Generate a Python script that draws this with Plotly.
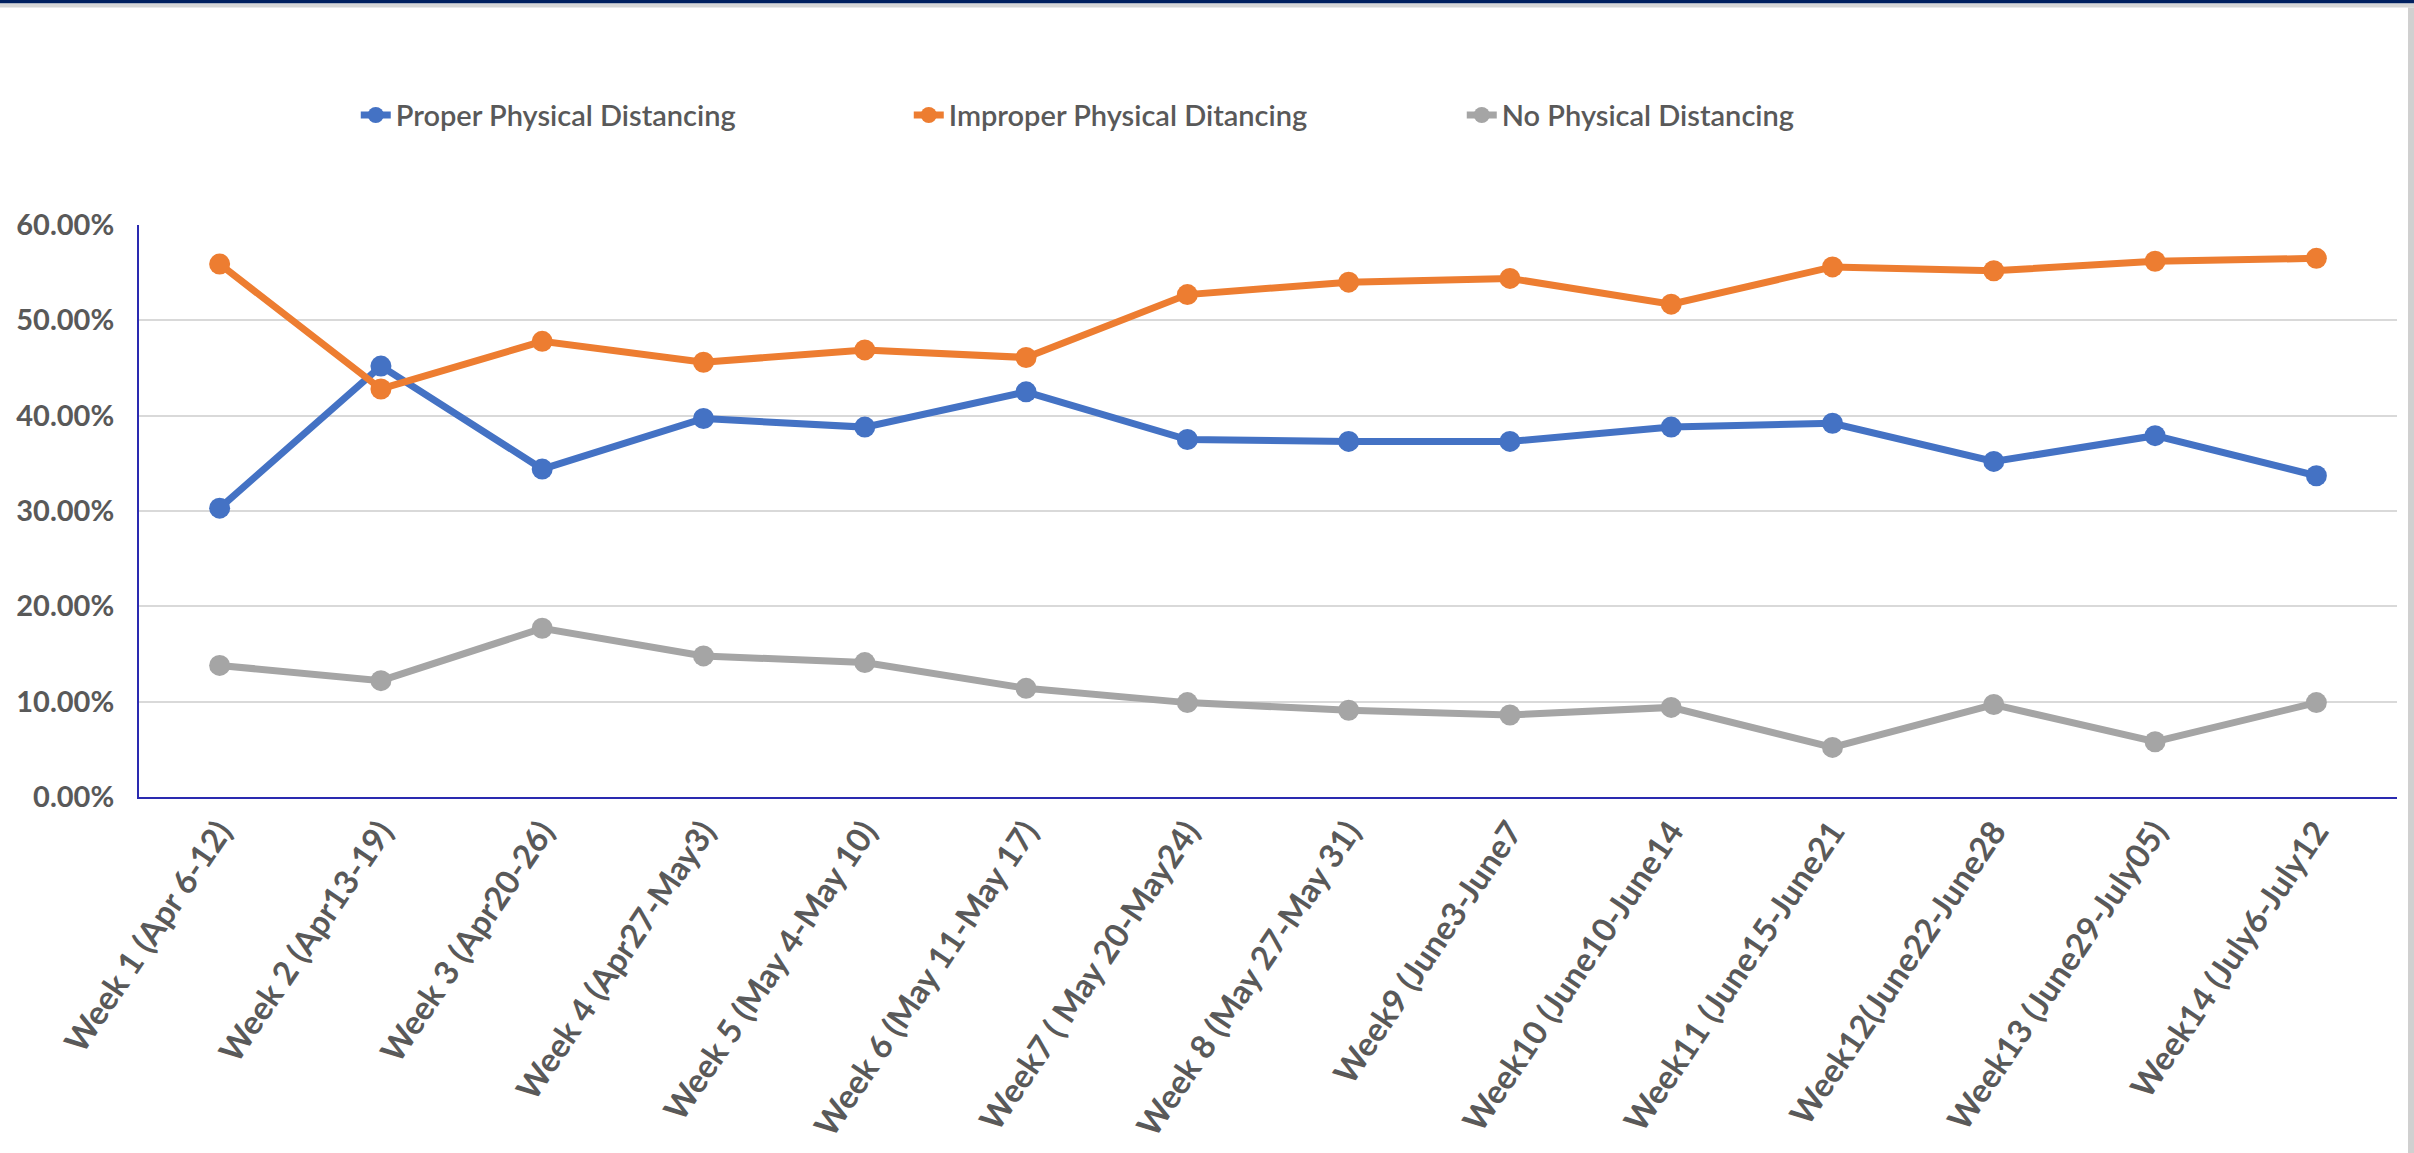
import plotly.graph_objects as go

# Weekly share of observations by physical-distancing category
weeks = [
    "Week 1 (Apr 6-12)",
    "Week 2 (Apr13-19)",
    "Week 3 (Apr20-26)",
    "Week 4 (Apr27-May3)",
    "Week 5 (May 4-May 10)",
    "Week 6 (May 11-May 17)",
    "Week7 ( May 20-May24)",
    "Week 8 (May 27-May 31)",
    "Week9 (June3-June7",
    "Week10 (June10-June14",
    "Week11 (June15-June21",
    "Week12(June22-June28",
    "Week13 (June29-July05)",
    "Week14 (July6-July12",
]

proper = [0.303, 0.452, 0.344, 0.397, 0.388, 0.425, 0.375, 0.373, 0.373,
          0.388, 0.392, 0.352, 0.379, 0.337]
improper = [0.559, 0.428, 0.478, 0.456, 0.469, 0.461, 0.527, 0.540, 0.544,
            0.517, 0.556, 0.552, 0.562, 0.565]
no_distancing = [0.138, 0.122, 0.177, 0.148, 0.141, 0.114, 0.099, 0.091,
                 0.086, 0.094, 0.052, 0.097, 0.058, 0.099]

series_names = ["Proper Physical Distancing", "Improper Physical Ditancing",
                "No Physical Distancing"]
series_colors = ["#4472C4", "#ED7D31", "#A5A5A5"]
y_ticks = [0, 0.1, 0.2, 0.3, 0.4, 0.5, 0.6]

FONT = "Lato"
TEXT_COLOR = "#595959"

fig = go.Figure()
for name, values, color in zip(series_names, [proper, improper, no_distancing],
                               series_colors):
    fig.add_trace(go.Scatter(
        x=weeks, y=values, name=name, mode="lines+markers",
        line=dict(color=color, width=7),
        marker=dict(color=color, size=21),
    ))

W, H = 2414, 1153
ML, MR, MT, MB = 139, 17, 225, 356

fig.update_layout(
    width=W, height=H,
    margin=dict(l=ML, r=MR, t=MT, b=MB, pad=0, autoexpand=False),
    paper_bgcolor="white", plot_bgcolor="white",
    font=dict(family=FONT, color=TEXT_COLOR),
    showlegend=True,
    legend=dict(
        orientation="h", x=0.096, xanchor="left", y=1.192, yanchor="middle",
        font=dict(size=29, color=TEXT_COLOR, family=FONT, weight=600),
        entrywidth=508, entrywidthmode="pixels",
        itemclick=False, itemdoubleclick=False,
    ),
    xaxis=dict(
        type="category", range=[-0.5, len(weeks) - 0.5], automargin=False,
        showgrid=False, zeroline=False,
        showline=True, linecolor="#2A2AB0", linewidth=2,
        ticks="", tickangle=-56, ticklabelstandoff=0,
        tickfont=dict(size=33, color=TEXT_COLOR, family=FONT, weight=700),
    ),
    yaxis=dict(
        range=[0, 0.6], tickvals=y_ticks, tickformat=".2%", automargin=False,
        showgrid=True, gridcolor="#D9D9D9", gridwidth=2,
        zeroline=False,
        showline=True, linecolor="#2A2AB0", linewidth=2,
        ticks="", ticklabelstandoff=17,
        tickfont=dict(size=29, color=TEXT_COLOR, family=FONT, weight=700),
    ),
    shapes=[
        # navy banner across the top edge
        dict(type="rect", xref="paper", yref="paper", layer="above",
             x0=-ML / (W - ML - MR), x1=1 + MR / (W - ML - MR),
             y0=1 + (MT - 3.5) / (H - MT - MB), y1=1 + MT / (H - MT - MB),
             fillcolor="#002060", line=dict(width=0)),
        dict(type="rect", xref="paper", yref="paper", layer="above",
             x0=-ML / (W - ML - MR), x1=1 + MR / (W - ML - MR),
             y0=1 + (MT - 7.5) / (H - MT - MB), y1=1 + (MT - 3.5) / (H - MT - MB),
             fillcolor="#D6D6D6", line=dict(width=0)),
        # thin frame on the right edge
        dict(type="rect", xref="paper", yref="paper", layer="above",
             x0=1 + (MR - 6) / (W - ML - MR), x1=1 + MR / (W - ML - MR),
             y0=-MB / (H - MT - MB), y1=1 + (MT - 7.5) / (H - MT - MB),
             fillcolor="#D0D0D0", line=dict(width=0)),
    ],
)

fig.write_html("out.html")
